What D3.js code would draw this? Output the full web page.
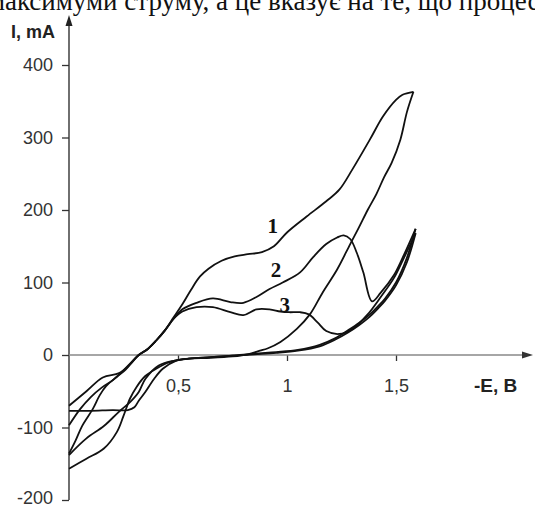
<!DOCTYPE html>
<html>
<head>
<meta charset="utf-8">
<script src="https://cdn.jsdelivr.net/npm/d3@7"></script>
<style>
  body { margin: 0; background: #fff; }
  svg { display: block; }
</style>
</head>
<body>
<svg id="chart" width="535" height="507"></svg>
<script>
// cyclic voltammograms, -E in V, I in mA
const curve1Forward = [[0,-136],[0.03,-118],[0.06,-98],[0.11,-74],[0.14,-56],[0.17,-43],[0.22,-30],[0.26,-20],[0.30,-6],[0.32,0],[0.36,8],[0.40,20],[0.44,34],[0.48,52],[0.52,70],[0.56,90],[0.60,108],[0.64,119],[0.70,130],[0.76,136],[0.82,139],[0.885,142],[0.94,150],[1.0,169],[1.09,191],[1.18,212],[1.24,228],[1.30,256],[1.38,297],[1.44,329],[1.50,352],[1.53,359],[1.58,363]];
const curve1Reverse = [[1.58,363],[1.55,335],[1.52,297],[1.48,265],[1.445,245],[1.41,222],[1.37,200],[1.33,176],[1.29,153],[1.23,118],[1.165,87],[1.105,56],[1.045,36],[0.97,18],[0.91,9],[0.876,6],[0.82,1],[0.75,-2],[0.65,-4],[0.55,-5],[0.5,-7],[0.46,-10],[0.40,-19],[0.35,-29],[0.31,-44],[0.28,-60],[0.25,-84],[0.22,-106],[0.16,-129],[0.08,-143],[0,-157]];

const curve2Forward = [[0,-97],[0.05,-75],[0.10,-58],[0.15,-45],[0.20,-35],[0.24,-24],[0.28,-12],[0.32,0],[0.36,8],[0.40,20],[0.44,34],[0.48,50],[0.52,63],[0.585,72],[0.66,78],[0.74,73],[0.8,72],[0.86,80],[0.92,91],[0.98,100],[1.06,114],[1.12,135],[1.18,153],[1.23,162],[1.26,165],[1.29,160],[1.32,141],[1.35,114],[1.39,74],[1.43,86],[1.49,110],[1.53,134],[1.59,174]];
const curve2Reverse = [[1.59,174],[1.55,134],[1.50,100],[1.45,78],[1.42,68],[1.38,56],[1.33,44],[1.28,34],[1.22,23],[1.15,14],[1.05,7],[0.95,4],[0.85,2],[0.75,-1],[0.65,-3],[0.55,-5],[0.48,-8],[0.41,-15],[0.35,-33],[0.32,-51],[0.28,-65],[0.23,-78],[0.16,-98],[0.08,-115],[0,-138]];

const curve3Forward = [[0,-70],[0.08,-50],[0.155,-31],[0.23,-25],[0.28,-13],[0.32,0],[0.36,8],[0.40,20],[0.44,34],[0.48,50],[0.52,60],[0.585,66],[0.66,66],[0.74,59],[0.8,55],[0.86,63],[0.92,63],[0.97,60],[1.01,59],[1.06,59],[1.10,56],[1.14,45],[1.18,33],[1.24,29],[1.30,36],[1.37,56],[1.43,80],[1.49,106],[1.53,130],[1.59,168]];
const curve3Reverse = [[1.59,168],[1.55,128],[1.50,96],[1.45,75],[1.42,65],[1.38,53],[1.33,41],[1.28,31],[1.22,21],[1.15,12],[1.05,6],[0.95,3],[0.85,1],[0.75,-1],[0.65,-3],[0.55,-5],[0.49,-8],[0.43,-19],[0.39,-33],[0.35,-51],[0.32,-63],[0.30,-72],[0.27,-76],[0.2,-76],[0.1,-77],[0,-77]];

const curveLabels = [
  { text: '1', e: 0.935, i: 168 },
  { text: '2', e: 0.95, i: 108 },
  { text: '3', e: 0.99, i: 60 }
];
const yTicks = [-200, -100, 0, 100, 200, 300, 400];
const xTicks = [0.5, 1, 1.5];
const pageLine = 'максимуми струму, а це вказує на те, що процес';

const svg = d3.select('#chart');

const x = d3.scaleLinear().domain([0, 1.5]).range([69, 396]);
const y = d3.scaleLinear().domain([-200, 400]).range([500, 65]);

// line of the page text above the figure, cut by the top edge as in the scan
svg.append('text')
    .attr('x', -12)
    .attr('y', 10)
    .style('font-family', '"Liberation Serif", "Times New Roman", serif')
    .style('font-size', '27px')
    .style('fill', '#111')
    .text(pageLine);

// y axis
const yAxis = svg.append('g')
    .attr('transform', `translate(${x(0)},0)`)
    .call(d3.axisLeft(y).tickValues(yTicks).tickSize(7).tickPadding(9).tickFormat(d => String(d)));
yAxis.select('.domain').remove();
yAxis.selectAll('line').attr('stroke', '#333').attr('stroke-width', 1.3);
yAxis.selectAll('text')
    .style('font-family', 'Arial, "Liberation Sans", sans-serif')
    .style('font-size', '18px')
    .style('fill', '#333');
// bottom label sits on the page edge, lift it a little
yAxis.selectAll('text').filter(d => d === -200).attr('dy', '0.2em');

svg.append('line')
    .attr('x1', x(0)).attr('x2', x(0))
    .attr('y1', y(-200)).attr('y2', 22)
    .attr('stroke', '#333').attr('stroke-width', 1.4);
svg.append('path')
    .attr('d', `M${x(0)},15 L${x(0) - 3.5},26 L${x(0) + 3.5},26 Z`)
    .attr('fill', '#222');

// x axis on the zero line
const xAxis = svg.append('g')
    .attr('transform', `translate(0,${y(0)})`)
    .call(d3.axisBottom(x).tickValues(xTicks).tickSize(6).tickPadding(18)
        .tickFormat(d => String(d).replace('.', ',')));
xAxis.select('.domain').remove();
xAxis.selectAll('line').attr('stroke', '#333').attr('stroke-width', 1.3);
xAxis.selectAll('text')
    .style('font-family', 'Arial, "Liberation Sans", sans-serif')
    .style('font-size', '18px')
    .style('fill', '#333');

svg.append('line')
    .attr('x1', x(0)).attr('x2', 524)
    .attr('y1', y(0)).attr('y2', y(0))
    .attr('stroke', '#888').attr('stroke-width', 1.5);
svg.append('path')
    .attr('d', `M533,${y(0)} L522,${y(0) - 3.5} L522,${y(0) + 3.5} Z`)
    .attr('fill', '#333');

// axis titles
svg.append('text')
    .attr('x', 11).attr('y', 38)
    .style('font-family', 'Arial, "Liberation Sans", sans-serif')
    .style('font-size', '18px').style('font-weight', 'bold')
    .style('fill', '#222')
    .text('I, mA');
svg.append('text')
    .attr('x', 474).attr('y', 392)
    .style('font-family', 'Arial, "Liberation Sans", sans-serif')
    .style('font-size', '19px').style('font-weight', 'bold')
    .style('fill', '#222')
    .text('-E, B');

// curves
const line = d3.line()
    .x(d => x(d[0]))
    .y(d => y(d[1]))
    .curve(d3.curveCatmullRom.alpha(0.5));

const branches = [curve1Forward, curve1Reverse, curve2Forward, curve2Reverse, curve3Forward, curve3Reverse];
svg.append('g')
    .selectAll('path')
    .data(branches)
    .enter()
    .append('path')
    .attr('d', line)
    .style('fill', 'none')
    .style('stroke', '#111')
    .style('stroke-width', 1.8)
    .style('stroke-linejoin', 'round');

svg.append('g')
    .selectAll('text')
    .data(curveLabels)
    .enter()
    .append('text')
    .attr('x', d => x(d.e))
    .attr('y', d => y(d.i))
    .attr('text-anchor', 'middle')
    .style('font-family', '"Liberation Serif", "Times New Roman", serif')
    .style('font-size', '21px')
    .style('font-weight', 'bold')
    .style('fill', '#111')
    .text(d => d.text);
</script>
</body>
</html>
